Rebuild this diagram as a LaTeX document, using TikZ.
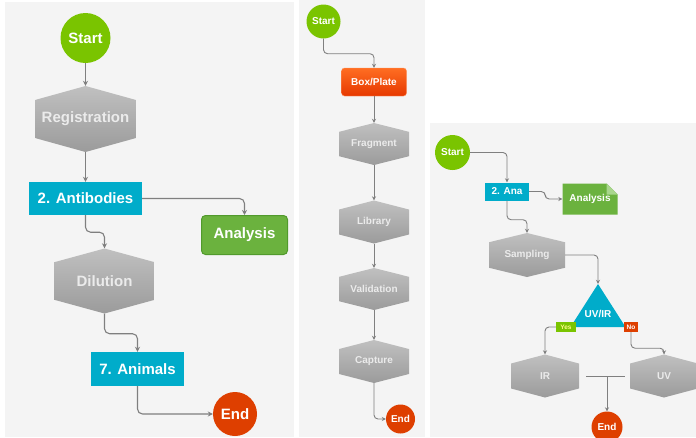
\documentclass[tikz,border=0pt]{standalone}
\usepackage{fontspec}
\setmainfont{Liberation Sans}
\usepackage{tikz}
\usetikzlibrary{arrows.meta,positioning,calc}

\definecolor{panelgray}{HTML}{F4F4F4}
\definecolor{startgreen}{HTML}{7AC400}
\definecolor{endred}{HTML}{DE3F00}
\definecolor{stepblue}{HTML}{00ACCA}
\definecolor{anagreen}{HTML}{6BB23E}
\definecolor{anaborder}{HTML}{519A2C}
\definecolor{foldgreen}{HTML}{A8D68C}
\definecolor{hextop}{HTML}{C0C0C0}
\definecolor{hexbot}{HTML}{9B9B9B}
\definecolor{platetop}{HTML}{FF6E22}
\definecolor{platebot}{HTML}{E63800}
\definecolor{linegray}{HTML}{7F7F7F}

\tikzset{
  bigtxt/.style={font=\fontsize{15pt}{18pt}\selectfont\bfseries},
  smalltxt/.style={font=\fontsize{10pt}{12pt}\selectfont\bfseries},
  termc/.style={circle, inner sep=0pt, text=white},
  stepbox/.style={rectangle, inner sep=0pt, fill=stepblue, text=white},
  anabox/.style={rectangle, rounded corners=4pt, inner sep=0pt, fill=anagreen, draw=anaborder, line width=1pt, text=white},
  platebox/.style={rectangle, rounded corners=3pt, inner sep=0pt, top color=platetop, bottom color=platebot, draw=platetop!70!white, text=white},
  hexa/.style={inner sep=0pt, text=white!92!black, path picture={
    \shade[top color=hextop, bottom color=hexbot]
      (path picture bounding box.north)
      -- ($(path picture bounding box.north east)!0.21!(path picture bounding box.south east)$)
      -- ($(path picture bounding box.south east)!0.21!(path picture bounding box.north east)$)
      -- (path picture bounding box.south)
      -- ($(path picture bounding box.south west)!0.21!(path picture bounding box.north west)$)
      -- ($(path picture bounding box.north west)!0.21!(path picture bounding box.south west)$)
      -- cycle;}},
  docbox/.style={inner sep=0pt, text=white, path picture={
    \fill[anagreen] (path picture bounding box.north west)
      -- ([xshift=-11pt]path picture bounding box.north east)
      -- ([yshift=-11pt]path picture bounding box.north east)
      -- (path picture bounding box.south east)
      -- (path picture bounding box.south west) -- cycle;
    \fill[foldgreen] ([xshift=-11pt]path picture bounding box.north east)
      -- ([yshift=-11pt]path picture bounding box.north east)
      -- ([xshift=-11pt,yshift=-11pt]path picture bounding box.north east) -- cycle;}},
  tri/.style={inner sep=0pt, minimum width=55pt, text height=33pt, text depth=10pt, text=white, path picture={
    \fill[stepblue] (path picture bounding box.north)
      -- (path picture bounding box.south east)
      -- (path picture bounding box.south west) -- cycle;}},
  tag/.style={inner sep=0pt, minimum height=10pt, font=\fontsize{6.5pt}{7pt}\selectfont\bfseries},
}

\begin{document}
\begin{tikzpicture}[x=1pt,y=-1pt,
  flow/.style={draw=linegray, line width=1.1pt, rounded corners=5pt, -{Stealth[length=5pt,width=5pt]}},
  flowsm/.style={draw=linegray, line width=0.9pt, rounded corners=4pt, -{Stealth[length=4pt,width=4pt]}}]
\useasboundingbox (0,0) rectangle (696,437);

% left chart
\fill[panelgray] (5,2) rectangle (294,437);
\node[termc, fill=startgreen, minimum size=50pt, bigtxt] (start1) at (85.5,38) {Start};
\node[hexa, minimum width=100pt, minimum height=66pt, bigtxt] (reg) at (85.5,119) {Registration};
\node[stepbox, minimum width=113pt, minimum height=33pt, bigtxt] (anti) at (85.5,198.5) {2. Antibodies};
\node[anabox, minimum width=86pt, minimum height=39pt, bigtxt] (ana1) at (244.5,235) {Analysis};
\node[hexa, minimum width=100pt, minimum height=65pt, bigtxt] (dil) at (104.5,281) {Dilution};
\node[stepbox, minimum width=93pt, minimum height=34pt, bigtxt] (anim) at (137.5,369) {7. Animals};
\node[termc, fill=endred, minimum size=44pt, bigtxt] (end1) at (235,414) {End};
\draw[flow] (start1) -- (reg);
\draw[flow] (reg) -- (anti);
\draw[flow] (anti.east) -| (ana1.north);
\draw[flow] (anti.south) -- ++(0,17) -| (dil.north);
\draw[flow] (dil.south) -- ++(0,20) -| (anim.north);
\draw[flow] (anim.south) |- (end1.west);

% middle chart
\fill[panelgray] (299,0) rectangle (425,437);
\node[termc, fill=startgreen, minimum size=34pt, smalltxt] (start2) at (323.5,21.5) {Start};
\node[platebox, minimum width=65pt, minimum height=28pt, smalltxt] (plate) at (374,82) {Box/Plate};
\node[hexa, minimum width=70pt, minimum height=42pt, smalltxt] (frag) at (374,144) {Fragment};
\node[hexa, minimum width=70pt, minimum height=43pt, smalltxt] (lib) at (374,222) {Library};
\node[hexa, minimum width=70pt, minimum height=42pt, smalltxt] (val) at (374,289) {Validation};
\node[hexa, minimum width=70pt, minimum height=43pt, smalltxt] (capt) at (374,361.5) {Capture};
\node[termc, fill=endred, minimum size=29pt, smalltxt] (end2) at (400.5,419) {End};
\draw[flowsm] (start2.south) -- ++(0,15) -| (plate.north);
\foreach \a/\b in {plate/frag, frag/lib, lib/val, val/capt}
  \draw[flowsm] (\a) -- (\b);
\draw[flowsm] (capt.south) |- (end2.west);

% right chart
\fill[panelgray] (430,123) rectangle (696,437);
\node[termc, fill=startgreen, minimum size=35pt, smalltxt] (start3) at (452.5,152.5) {Start};
\node[stepbox, minimum width=44pt, minimum height=18pt, smalltxt] (ana) at (507,191.5) {2. Ana};
\node[docbox, minimum width=55pt, minimum height=31pt, smalltxt] (rep) at (590,199) {Analysis};
\node[hexa, minimum width=76pt, minimum height=44pt, smalltxt] (samp) at (527,255) {Sampling};
\node[tri, smalltxt] (uvir) at (598,305.5) {UV/IR};
\node[tag, fill=startgreen, text=yellow!45, minimum width=20pt] (yes) at (566,327) {Yes};
\node[tag, fill=endred, text=white, minimum width=14pt] (no) at (631,327) {No};
\node[hexa, minimum width=68pt, minimum height=43pt, smalltxt] (ir) at (545,376) {IR};
\node[hexa, minimum width=68pt, minimum height=43pt, smalltxt] (uv) at (664,376) {UV};
\node[termc, fill=endred, minimum size=31pt, smalltxt] (end3) at (607,427) {End};
\coordinate (join) at (607,376);
\draw[flowsm] (start3.east) -| (ana.north);
\draw[flowsm] (ana.east) -- ++(16,0) |- (rep.west);
\draw[flowsm] (ana.south) -- ++(0,19) -| (samp.north);
\draw[flowsm] (samp.east) -| (uvir.north);
\draw[flowsm] (yes.west) -| (ir.north);
\draw[flowsm] (no.south) -- ++(0,16) -| (uv.north);
\draw[draw=linegray, line width=0.9pt] ([xshift=7pt]ir.east) -- ([xshift=-5pt]uv.west);
\draw[flowsm] (join) -- (end3);
\end{tikzpicture}
\end{document}
